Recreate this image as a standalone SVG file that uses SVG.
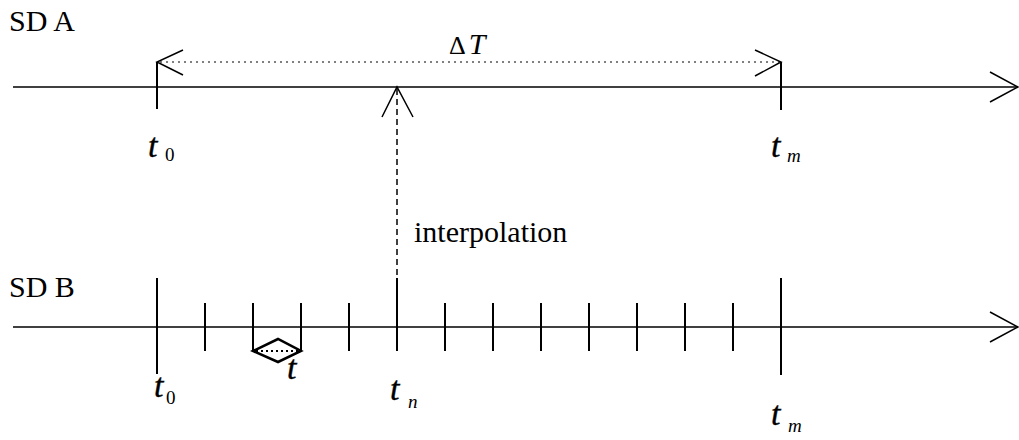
<svg xmlns="http://www.w3.org/2000/svg" width="1019" height="440" viewBox="0 0 1019 440">
<style>
.ln{stroke:#000;stroke-width:1.5;fill:none}
.tk{stroke:#000;stroke-width:2;fill:none}
.dot{stroke:#000;stroke-width:1;stroke-dasharray:2 4;fill:none}
.dash{stroke:#000;stroke-width:1.5;stroke-dasharray:6 4;fill:none}
.lbl{font-family:"Liberation Serif",serif;font-size:30px;fill:#000}
.it{font-family:"Liberation Serif",serif;font-style:italic;font-size:34px;fill:#000;stroke:#000;stroke-width:0.4}
.sub{font-family:"Liberation Serif",serif;font-size:19px;fill:#000}
.subi{font-family:"Liberation Serif",serif;font-style:italic;font-size:19px;fill:#000}
</style>
<rect width="1019" height="440" fill="#fff"/>
<g id="axisA">
<text class="lbl" x="9" y="31">SD A</text>
<line class="ln" x1="13" y1="87" x2="1018" y2="87"/>
<polyline class="ln" points="990,72 1018,87 990,102"/>
<line class="tk" x1="157" y1="62" x2="157" y2="109"/>
<line class="tk" x1="781" y1="62" x2="781" y2="110"/>
<text class="it" x="148" y="157">t</text><text class="sub" x="165" y="161">0</text>
<text class="it" x="771" y="157">t</text><text class="subi" x="787" y="162">m</text>
</g>
<g id="deltaT">
<line class="dot" x1="160" y1="62" x2="779" y2="62"/>
<polyline class="ln" points="183,50 157,62 183,75"/>
<polyline class="ln" points="755,50 781,62 755,76"/>
<text x="449" y="54" font-family="Liberation Serif,serif" font-size="26">Δ<tspan font-style="italic" font-size="30" dx="3">T</tspan></text>
</g>
<g id="axisB">
<text class="lbl" x="9" y="297">SD B</text>
<line class="ln" x1="13" y1="327" x2="1018" y2="327"/>
<polyline class="ln" points="990,312 1018,327 990,342"/>
<line class="tk" x1="157" y1="278" x2="157" y2="374"/>
<line class="tk" x1="781" y1="278" x2="781" y2="375"/>
<line class="tk" x1="397" y1="278" x2="397" y2="351"/>
<g class="tk">
<line x1="205" y1="303" x2="205" y2="351"/>
<line x1="253" y1="303" x2="253" y2="351"/>
<line x1="301" y1="303" x2="301" y2="351"/>
<line x1="349" y1="303" x2="349" y2="351"/>
<line x1="445" y1="303" x2="445" y2="351"/>
<line x1="493" y1="303" x2="493" y2="351"/>
<line x1="541" y1="303" x2="541" y2="351"/>
<line x1="589" y1="303" x2="589" y2="351"/>
<line x1="637" y1="303" x2="637" y2="351"/>
<line x1="685" y1="303" x2="685" y2="351"/>
<line x1="733" y1="303" x2="733" y2="351"/>
</g>
<text class="it" x="154" y="397">t</text><text class="sub" x="166" y="404">0</text>
<text class="it" x="390" y="400">t</text><text class="subi" x="408" y="408">n</text>
<text class="it" x="771" y="425">t</text><text class="subi" x="788" y="432">m</text>
</g>
<g id="interval">
<polygon points="253,351 278,339 301,351 278,362" fill="none" stroke="#000" stroke-width="2.5" stroke-linejoin="miter"/>
<line x1="256" y1="351" x2="299" y2="351" stroke="#000" stroke-width="2" stroke-dasharray="2 3"/>
<text class="it" x="287" y="379">t</text>
</g>
<g id="connectors">
<line class="dash" x1="397" y1="89" x2="397" y2="290"/>
<polyline class="ln" points="382,117 397,87 413,117"/>
<text class="lbl" x="414" y="242" font-size="31">interpolation</text>
</g>
</svg>
